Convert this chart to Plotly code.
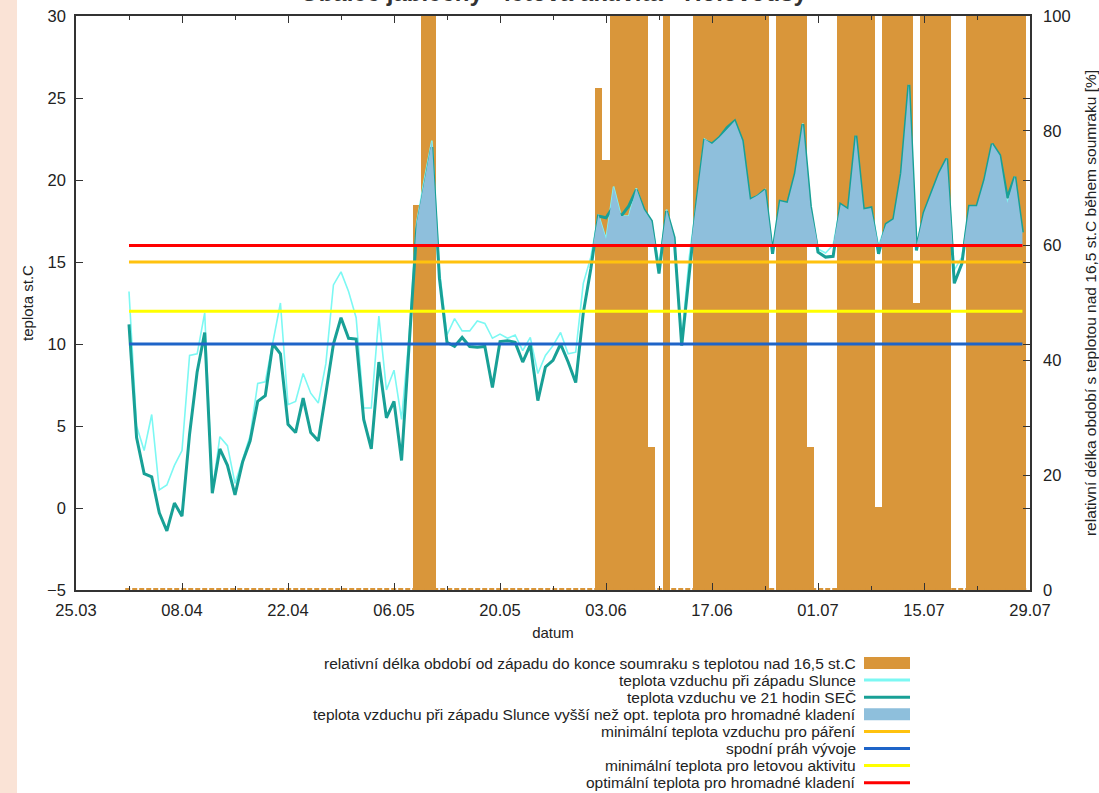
import numpy as np
import pandas as pd
import plotly.graph_objects as go

# ---------------- data ----------------
start_date = "2023-04-01"
end_date = "2023-07-28"
dates = pd.date_range(start_date, end_date, freq="D")  # 119 days

# relative duration (%) of dusk period with temperature above 16.5 C
rel_pct = [0]*38 + [67, 100, 100] + [0]*21 + [87.5, 75, 100, 100, 100, 100, 100, 25, 0, 100,
           0, 0, 0] + [100]*10 + [0] + [100]*4 + [25, 0, 0, 0] + [100]*5 + [14.5] + [100]*4 + [50] + \
          [100]*4 + [0, 0] + [100]*8

# air temperature at sunset
t_sunset = [13.2, 5.0, 3.5, 5.7, 1.1, 1.4, 2.6, 3.5, 9.3, 9.4, 11.9, 1.0, 4.35, 3.8, 1.5, 3.0,
            4.4, 7.6, 7.7, 10.1, 12.5, 6.3, 6.5, 8.2, 7.0, 6.4, 8.8, 13.6, 14.4, 13.2, 11.6, 6.1,
            6.1, 11.7, 7.2, 8.4, 5.4, 10.5, 17.4, 20.0, 22.4, 14.5, 10.55, 11.55, 10.8, 10.8, 11.4,
            11.25, 10.35, 10.6, 10.35, 10.55, 9.6, 10.4, 8.2, 9.3, 9.9, 10.7, 9.4, 9.5, 13.7, 15.3,
            17.9, 16.4, 19.6, 17.8, 17.8, 19.5, 18.2, 17.5, 14.8, 18.2, 16.5, 10.3, 15.3, 18.8, 22.5,
            22.2, 22.6, 23.1, 23.6, 22.4, 18.8, 19.05, 19.4, 15.8, 18.7, 18.6, 20.4, 23.45, 18.4,
            15.8, 15.55, 16.05, 18.5, 18.2, 22.7, 18.2, 18.3, 16.0, 17.3, 17.6, 20.4, 25.8, 16.0,
            18.0, 19.2, 20.4, 21.3, 14.5, 15.3, 18.4, 18.4, 20.0, 22.2, 21.5, 18.6, 20.2, 16.8]

# air temperature at 21 h
t_21h = [11.2, 4.3, 2.1, 1.9, -0.3, -1.4, 0.3, -0.5, 4.5, 8.3, 10.7, 0.9, 3.6, 2.6, 0.8, 2.8,
         4.1, 6.5, 6.85, 10.0, 9.4, 5.1, 4.6, 6.7, 4.6, 4.1, 7.0, 10.0, 11.6, 10.35, 10.3, 5.4,
         3.6, 8.9, 5.5, 6.5, 2.9, 10.0, 17.0, 19.5, 22.0, 14.0, 10.1, 9.85, 10.4, 9.85, 9.8,
         9.85, 7.35, 10.15, 10.2, 10.1, 8.9, 9.95, 6.55, 8.6, 9.0, 10.0, 8.9, 7.65, 11.9, 14.6,
         17.8, 17.7, 18.4, 17.8, 18.4, 19.4, 18.2, 17.5, 14.3, 18.1, 16.5, 9.9, 14.5, 18.7, 22.4,
         22.2, 22.6, 23.2, 23.6, 22.4, 18.8, 19.0, 19.4, 15.5, 18.7, 18.6, 20.4, 23.4, 18.4,
         15.6, 15.3, 15.35, 18.5, 18.2, 22.7, 18.2, 18.3, 15.5, 17.3, 17.6, 20.4, 25.8, 15.7,
         18.0, 19.2, 20.4, 21.3, 13.7, 14.9, 18.4, 18.4, 20.0, 22.2, 21.5, 18.9, 20.2, 16.8]

# thresholds
t_mating = 15        # minimální teplota vzduchu pro páření
t_dev = 10           # spodní práh vývoje
t_flight = 12        # minimální teplota pro letovou aktivitu
t_opt = 16           # optimální teplota pro hromadné kladení

x_tick0 = "2023-03-25"
x_end = "2023-07-29"

# ---------------- styling ----------------
C_BAR = "#d9963a"
C_CYAN = "#7cf8f3"
C_TEAL = "#18a096"
C_FILL = "#8ebfdc"
C_ORANGE = "#ffc20e"
C_BLUE = "#1e64c8"
C_YELLOW = "#ffff00"
C_RED = "#ff0000"
FONT = "Liberation Sans, Arial, sans-serif"
DAY = 86400000

W, H = 1099, 793
L, R, T, B = 76, 1030, 16, 590


def pxx(x):
    return (x - L) / (R - L)


def pxy(y):
    return (B - y) / (B - T)


# fill polygon above optimum temperature (with crossing points for clean edges)
fx, fy = [], []
ts = np.array(t_sunset, dtype=float)
for i in range(len(dates)):
    fx.append(dates[i])
    fy.append(max(ts[i], t_opt))
    if i < len(dates) - 1:
        a, b = ts[i] - t_opt, ts[i + 1] - t_opt
        if a * b < 0:
            frac = a / (a - b)
            fx.append(dates[i] + pd.Timedelta(days=float(frac)))
            fy.append(t_opt)

fig = go.Figure()

fig.add_trace(go.Bar(x=dates, y=rel_pct, width=DAY, marker=dict(color=C_BAR, line=dict(width=0)),
                     yaxis="y", showlegend=False, name="relativní délka"))
fig.add_trace(go.Scatter(x=[dates[0] - pd.Timedelta(hours=12), dates[-1] + pd.Timedelta(hours=12)],
                         y=[0, 0], mode="lines", yaxis="y",
                         line=dict(color=C_BAR, width=4, dash="5px,2px"), showlegend=False,
                         hoverinfo="skip"))

fig.add_trace(go.Scatter(x=dates, y=t_sunset, mode="lines", yaxis="y2",
                         line=dict(color=C_CYAN, width=1.6), showlegend=False))
fig.add_trace(go.Scatter(x=dates, y=t_21h, mode="lines", yaxis="y2",
                         line=dict(color=C_TEAL, width=3), showlegend=False))
fig.add_trace(go.Scatter(x=fx, y=[t_opt] * len(fx), mode="lines", yaxis="y2",
                         line=dict(width=0, color=C_FILL), showlegend=False, hoverinfo="skip"))
fig.add_trace(go.Scatter(x=fx, y=fy, mode="lines", yaxis="y2", fill="tonexty",
                         fillcolor=C_FILL, line=dict(width=0, color=C_FILL), showlegend=False))

for val, col in [(t_mating, C_ORANGE), (t_dev, C_BLUE), (t_flight, C_YELLOW), (t_opt, C_RED)]:
    fig.add_trace(go.Scatter(x=dates, y=[val] * len(dates), mode="lines", yaxis="y2",
                             line=dict(color=col, width=3), showlegend=False))

# custom legend (text right-aligned, sample on the right)
legend_items = [
    ("relativní délka období od západu do konce soumraku s teplotou nad 16,5 st.C", "rect", C_BAR),
    ("teplota vzduchu při západu Slunce", "line", C_CYAN),
    ("teplota vzduchu ve 21 hodin SEČ", "line", C_TEAL),
    ("teplota vzduchu při západu Slunce vyšší než opt. teplota pro hromadné kladení", "rect", C_FILL),
    ("minimální teplota vzduchu pro páření", "line", C_ORANGE),
    ("spodní práh vývoje", "line", C_BLUE),
    ("minimální teplota pro letovou aktivitu", "line", C_YELLOW),
    ("optimální teplota pro hromadné kladení", "line", C_RED),
]
annotations = []
shapes = []
for k, (lab, kind, col) in enumerate(legend_items):
    yy = 663 + k * 17.1
    annotations.append(dict(text=lab, x=pxx(858), y=pxy(yy), xref="paper", yref="paper",
                            xanchor="right", yanchor="middle", showarrow=False,
                            font=dict(family=FONT, size=15.5, color="#222")))
    if kind == "rect":
        shapes.append(dict(type="rect", xref="paper", yref="paper", x0=pxx(864), x1=pxx(910),
                           y0=pxy(yy + 6), y1=pxy(yy - 6), fillcolor=col, line=dict(width=0)))
    else:
        shapes.append(dict(type="line", xref="paper", yref="paper", x0=pxx(864), x1=pxx(910),
                           y0=pxy(yy), y1=pxy(yy), line=dict(color=col, width=3)))

# chart title (cut off at the top of the page, as in the reference)
annotations.append(dict(text="<b>Obaleč jablečný - letová aktivita - Holovousy</b>", x=0.5,
                        y=pxy(-7.5), xref="paper", yref="paper", xanchor="center",
                        yanchor="middle", showarrow=False,
                        font=dict(family=FONT, size=24, color="#333")))

# page strip on left
shapes.append(dict(type="rect", xref="paper", yref="paper", x0=pxx(0), x1=pxx(17),
                   y0=pxy(H), y1=pxy(0), fillcolor="#fae3d6", line=dict(width=0), layer="below"))

axis_font = dict(family=FONT, size=16.5, color="#222")

fig.update_layout(
    width=W, height=H,
    margin=dict(l=L, r=W - R, t=T, b=H - B, pad=0, autoexpand=False),
    paper_bgcolor="white", plot_bgcolor="white",
    font=dict(family=FONT, size=14, color="#222"),
    bargap=0,
    xaxis=dict(type="date", range=[x_tick0, x_end], tick0=x_tick0, dtick=14 * DAY,
               tickformat="%d.%m", ticks="inside", ticklen=7, tickwidth=1.2, tickcolor="#333",
               mirror="ticks", showline=True, linecolor="#333", linewidth=1.6, showgrid=False,
               zeroline=False, tickfont=axis_font, ticklabelstandoff=4, automargin=False,
               minor=dict(tick0=x_tick0, dtick=7 * DAY, ticks="inside", ticklen=4,
                          tickcolor="#333", showgrid=False),
               title=dict(text="datum", font=dict(family=FONT, size=15, color="#222"), standoff=10)),
    yaxis=dict(range=[0, 100], side="right", dtick=20, ticks="inside", ticklen=7, tickcolor="#333",
               showline=True, linecolor="#333", linewidth=1.6, showgrid=False, zeroline=False,
               tickfont=axis_font, ticklabelstandoff=8, automargin=False,
               title=dict(text="relativní délka období s teplotou nad 16,5 st.C během soumraku [%]",
                          font=dict(family=FONT, size=15.5, color="#222"), standoff=16)),
    yaxis2=dict(range=[-5, 30], overlaying="y", side="left", dtick=5, ticks="inside", ticklen=7,
                tickcolor="#333", mirror="ticks", showline=True, linecolor="#333", linewidth=1.6,
                showgrid=False, zeroline=False, tickfont=axis_font, ticklabelstandoff=5,
                automargin=False,
                title=dict(text="teplota st.C", font=dict(family=FONT, size=15, color="#222"),
                           standoff=10)),
    annotations=annotations,
    shapes=shapes,
)

fig.write_html("out.html", config={"displayModeBar": False},
               post_script="document.body.style.margin='0px';")
